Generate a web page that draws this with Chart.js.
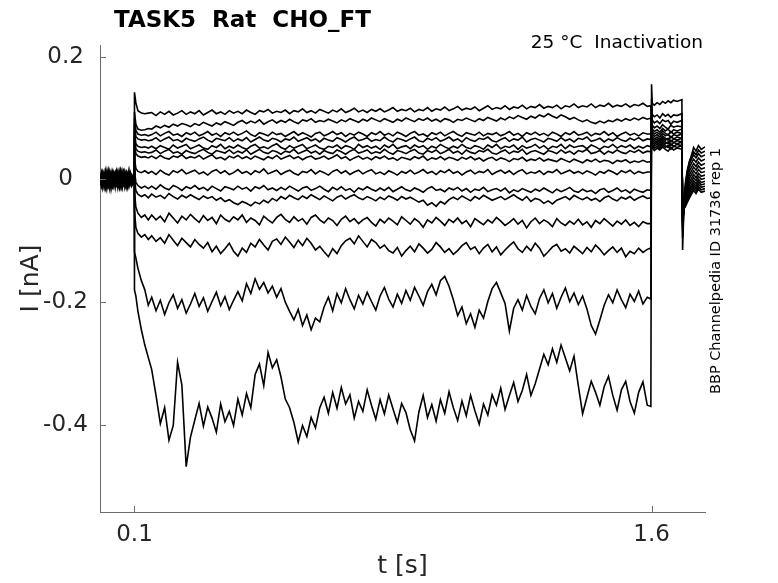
<!DOCTYPE html>
<html lang="en">
<head>
<meta charset="UTF-8">
<title>TASK5 Rat CHO_FT - Inactivation</title>
<script src="https://cdn.jsdelivr.net/npm/chart.js"></script>
<style>
  html, body { margin: 0; padding: 0; background: #fff; }
  canvas { display: block; }
</style>
</head>
<body>
<canvas id="traceChart" width="778" height="583"></canvas>
<script>
// time of each sample [s]: baseline, prepulse, test pulse, tail
const t = [
  0, 0.004, 0.008, 0.012, 0.016, 0.02, 0.024, 0.028, 0.032, 0.036, 0.04, 0.044,
  0.048, 0.052, 0.056, 0.06, 0.064, 0.068, 0.072, 0.076, 0.08, 0.084, 0.088, 0.092, 0.0995,
  0.1, 0.104, 0.11, 0.12, 0.13, 0.14,
  0.15, 0.1625, 0.175, 0.1875, 0.2, 0.2125, 0.225, 0.2375, 0.25, 0.2625,
  0.275, 0.2875, 0.3, 0.3125, 0.325, 0.3375, 0.35, 0.3625, 0.375, 0.3875,
  0.4, 0.4125, 0.425, 0.4375, 0.45, 0.4625, 0.475, 0.4875, 0.5, 0.5125,
  0.525, 0.5375, 0.55, 0.5625, 0.575, 0.5875, 0.6, 0.6125, 0.625, 0.6375,
  0.65, 0.6625, 0.675, 0.6875, 0.7, 0.7125, 0.725, 0.7375, 0.75, 0.7625,
  0.775, 0.7875, 0.8, 0.8125, 0.825, 0.8375, 0.85, 0.8625, 0.875, 0.8875,
  0.9, 0.9125, 0.925, 0.9375, 0.95, 0.9625, 0.975, 0.9875, 1.0, 1.0125,
  1.025, 1.0375, 1.05, 1.0625, 1.075, 1.0875, 1.1, 1.1125, 1.125, 1.1375,
  1.15, 1.1625, 1.175, 1.1875, 1.2, 1.2125, 1.225, 1.2375, 1.25, 1.2625,
  1.275, 1.2875, 1.3, 1.3125, 1.325, 1.3375, 1.35, 1.3625, 1.375, 1.3875,
  1.4, 1.4125, 1.425, 1.4375, 1.45, 1.4625, 1.475, 1.4875, 1.5, 1.5125,
  1.525, 1.5375, 1.55, 1.5625, 1.575, 1.5875,
  1.598,
  1.6, 1.602, 1.608, 1.616, 1.624, 1.632, 1.64, 1.648, 1.656, 1.664, 1.674, 1.688,
  1.69, 1.692, 1.695, 1.699, 1.704, 1.71, 1.716, 1.722, 1.729, 1.736, 1.744, 1.755
];

// current of each sweep [pA], top trace first
const s01 = [
  3,-8,10,-4,12,-11,5,-2,9,-7,6,-12,8,1,-9,11,-5,4,-10,7,-3,13,-6,2,1,
  142,125,112,108,107,108,
  109,104,110,106,111,105,108,112,106,110,
  107,112,105,109,113,107,110,106,112,108,
  111,107,113,109,106,112,110,114,108,111,
  109,113,107,112,110,115,109,112,108,114,
  111,108,113,110,115,109,112,116,110,113,
  109,114,111,115,110,113,117,111,114,112,
  116,110,114,112,117,111,115,113,118,112,
  115,119,113,116,114,118,112,116,120,114,
  117,115,120,114,118,116,121,115,119,117,
  122,116,119,117,121,115,120,118,123,117,
  120,118,123,117,121,119,124,118,121,119,
  123,118,122,120,124,119,
  120,
  84,52,47,51,48,53,49,46,52,48,51,49,
  -50,-49,-46,-43,-37,-30,-24,-18,-23,-16,-21,-19
];
const s02 = [
  -5,9,-10,6,-2,11,-8,3,-12,7,-1,10,-6,4,-9,12,-3,8,-11,5,-7,2,9,-4,3,
  110,90,82,80,81,83,
  82,87,84,88,85,90,87,91,89,86,
  91,88,93,90,87,92,89,94,91,88,
  93,96,91,95,92,97,90,94,97,92,
  96,93,98,94,91,97,95,99,93,96,
  94,98,95,92,97,94,99,96,93,98,
  95,100,97,94,99,96,93,98,95,100,
  97,94,99,96,100,95,98,94,99,97,
  93,98,96,100,97,94,99,96,101,98,
  95,100,97,102,99,104,101,98,103,100,
  105,102,107,103,100,105,102,98,101,97,
  94,97,93,91,95,92,96,94,98,95,
  99,96,100,97,101,98,
  100,
  85,55,51,54,50,56,52,55,49,54,52,55,
  -52,-51,-47,-42,-34,-26,-20,-14,-19,-12,-17,-15
];
const s03 = [
  7,-3,2,-11,5,-6,12,-8,3,-1,9,-5,11,-10,4,-7,6,-2,10,-9,1,-4,8,-6,-4,
  100,80,74,72,73,71,
  73,77,71,75,78,72,74,70,76,73,
  77,71,74,78,72,75,70,76,73,77,
  72,75,79,73,70,76,74,71,77,73,
  75,70,74,78,72,76,73,69,75,77,
  71,74,78,73,76,70,75,72,77,74,
  70,76,73,78,72,75,71,77,74,70,
  75,78,72,74,70,76,73,77,71,75,
  78,73,70,76,74,72,77,71,75,73,
  76,71,74,78,72,75,70,76,73,77,
  72,75,71,77,74,70,76,73,78,72,
  74,77,71,75,73,78,72,76,70,74,
  77,72,75,71,76,74,
  74,
  86,58,54,57,53,59,55,52,58,54,57,55,
  -55,-52,-46,-40,-31,-22,-16,-10,-15,-8,-13,-11
];
const s04 = [
  -2,10,-6,4,-12,7,-1,9,-7,5,-9,3,12,-4,8,-11,2,-6,11,-3,6,-10,4,-8,2,
  90,70,66,64,65,63,
  64,68,62,66,69,63,65,61,67,64,
  62,66,69,64,61,67,65,63,68,62,
  66,63,68,61,65,69,64,62,67,65,
  61,66,64,69,62,65,68,63,66,61,
  67,64,62,68,65,61,66,69,63,65,
  68,62,65,63,69,64,61,67,65,62,
  66,69,63,61,67,64,68,62,65,69,
  63,66,61,68,64,62,67,65,69,63,
  61,65,68,62,66,64,69,61,65,67,
  64,61,67,65,62,68,63,66,61,67,
  65,69,62,64,67,61,66,63,68,64,
  62,67,64,68,63,66,
  65,
  88,61,57,60,56,62,58,61,55,60,58,61,
  -58,-56,-47,-38,-28,-18,-12,-6,-11,-4,-9,-7
];
const s05 = [
  6,-9,5,-4,8,-2,-10,6,-3,11,-6,1,-8,9,-5,3,-12,7,-1,10,-7,4,-3,8,0,
  80,58,54,52,53,51,
  54,50,55,52,49,56,51,54,57,50,
  53,56,51,49,55,52,57,50,54,51,
  56,52,49,54,57,51,53,50,55,58,
  52,49,55,51,54,57,50,53,56,51,
  49,54,52,56,50,55,53,49,57,52,
  55,51,54,49,56,52,57,50,53,55,
  50,56,52,55,49,54,51,57,53,50,
  54,51,57,52,50,55,53,49,56,52,
  57,50,54,52,56,49,55,51,53,57,
  51,55,49,54,52,57,50,56,52,54,
  55,50,56,53,49,54,52,57,51,55,
  52,56,50,54,51,55,
  53,
  90,64,60,63,59,65,61,58,64,60,63,61,
  -60,-55,-45,-35,-24,-14,-8,-2,-7,0,-5,-3
];
const s06 = [
  -8,3,11,-6,2,-9,6,-13,7,-2,4,-10,9,-5,12,-3,1,-8,5,-11,8,-1,3,-6,-3,
  70,50,46,44,45,43,
  44,48,42,46,49,43,45,41,47,44,
  42,46,49,44,41,47,45,43,48,42,
  46,43,48,41,45,49,44,42,47,45,
  41,46,44,49,42,45,48,43,46,41,
  47,44,42,48,45,41,46,49,43,45,
  48,42,45,43,49,44,41,47,45,42,
  46,49,43,41,47,44,48,42,45,49,
  43,46,41,48,44,42,47,45,49,43,
  41,45,48,42,46,44,49,41,45,47,
  44,41,47,45,42,48,43,46,41,47,
  45,49,42,44,47,41,46,43,48,44,
  42,47,44,48,43,46,
  45,
  92,67,63,66,62,68,64,67,61,66,64,67,
  -62,-58,-46,-33,-20,-9,-3,3,-2,5,0,2
];
const s07 = [
  1,-5,7,-11,9,-3,3,-7,10,-9,5,-2,8,-12,4,-6,11,-1,6,-10,2,-4,9,-7,-1,
  60,42,38,36,37,35,
  38,34,39,35,33,38,36,40,34,37,
  35,39,33,37,40,34,36,32,38,35,
  39,34,37,33,38,35,32,37,34,39,
  33,36,39,34,37,32,36,38,33,35,
  38,33,36,40,34,37,31,35,38,33,
  36,32,37,34,38,33,35,31,36,34,
  32,37,34,38,31,35,33,37,32,36,
  34,31,36,33,37,32,35,30,34,36,
  31,35,33,29,34,32,36,30,33,31,
  35,30,33,31,29,34,31,28,33,30,
  27,32,29,33,28,31,30,26,31,29,
  32,27,30,28,31,28,
  29,
  95,70,66,69,65,71,67,64,70,66,69,67,
  -65,-56,-44,-29,-15,-4,2,8,3,10,5,7
];
const s08 = [
  9,-2,-7,5,-6,12,-9,4,-3,8,-10,3,-5,10,-8,6,-1,11,-6,2,-9,7,-4,5,2,
  35,18,13,11,14,10,
  13,8,15,10,7,14,11,16,9,12,
  15,9,12,7,13,16,10,14,8,11,
  16,10,13,8,14,11,17,9,12,15,
  8,12,15,10,7,13,11,16,9,14,
  11,7,13,16,10,14,8,12,15,9,
  13,16,9,12,8,14,11,7,13,10,
  15,9,12,16,10,13,8,14,11,16,
  10,13,7,12,15,9,13,11,16,8,
  12,15,10,14,8,13,16,9,12,10,
  14,8,13,11,16,9,12,15,10,13,
  9,14,11,7,13,10,15,12,8,14,
  11,15,9,13,10,12,
  12,
  98,74,70,73,69,75,71,74,68,73,71,74,
  -68,-60,-42,-25,-10,2,8,14,9,16,11,13
];
const s09 = [
  -4,6,-12,8,-1,5,-8,11,-6,3,-5,9,-2,7,-11,4,-7,10,-3,6,-9,1,8,-5,6,
  15,-5,-10,-14,-11,-15,
  -11,-16,-9,-14,-17,-10,-13,-18,-12,-15,
  -10,-16,-13,-18,-11,-15,-19,-12,-14,-17,
  -11,-16,-13,-19,-12,-15,-10,-17,-14,-18,
  -13,-17,-11,-15,-19,-14,-12,-18,-15,-11,
  -16,-20,-13,-17,-12,-18,-15,-21,-14,-17,
  -12,-16,-19,-14,-18,-13,-20,-16,-12,-17,
  -19,-14,-17,-21,-15,-12,-18,-16,-20,-14,
  -17,-13,-19,-15,-21,-16,-18,-13,-20,-17,
  -15,-19,-14,-22,-17,-20,-15,-18,-21,-16,
  -19,-14,-18,-22,-16,-20,-17,-13,-19,-21,
  -16,-20,-18,-23,-17,-15,-21,-18,-14,-20,
  -17,-22,-16,-19,-21,-17,
  -18,
  100,78,74,77,73,79,75,72,78,74,77,75,
  -70,-58,-38,-20,-4,8,14,20,15,22,17,19
];
const s10 = [
  5,-10,3,-2,7,-13,8,-4,6,-7,10,-3,4,-9,2,-6,12,-5,9,-1,5,-8,3,-11,-2,
  0,-18,-24,-28,-25,-30,
  -24,-29,-26,-31,-23,-28,-32,-26,-30,-25,
  -29,-33,-27,-31,-28,-34,-30,-36,-33,-38,
  -41,-36,-39,-43,-37,-40,-34,-38,-31,-35,
  -28,-32,-26,-30,-33,-27,-31,-25,-29,-33,
  -27,-31,-35,-29,-26,-32,-28,-25,-30,-33,
  -28,-31,-35,-29,-33,-27,-30,-34,-28,-32,
  -29,-33,-37,-34,-42,-38,-44,-36,-40,-33,
  -29,-33,-27,-31,-35,-28,-32,-26,-30,-34,
  -31,-28,-33,-29,-25,-30,-34,-28,-36,-31,
  -33,-39,-35,-40,-34,-31,-28,-33,-26,-30,
  -33,-29,-34,-31,-36,-30,-27,-32,-35,-29,
  -32,-28,-34,-30,-27,-31,
  -30,
  105,82,78,81,77,83,79,82,76,81,79,82,
  -75,-55,-34,-14,2,14,20,26,21,28,23,26
];
const s11 = [
  -7,4,-5,10,-9,2,-6,7,-14,5,-1,8,-4,11,-8,3,-10,6,-2,9,-5,12,-7,1,5,
  -20,-45,-55,-62,-58,-66,
  -58,-66,-60,-69,-55,-63,-71,-60,-66,-57,
  -64,-70,-59,-67,-62,-72,-58,-65,-69,-61,
  -66,-58,-70,-63,-67,-74,-60,-66,-71,-62,
  -57,-65,-70,-61,-68,-64,-73,-62,-58,-66,
  -71,-63,-67,-75,-65,-60,-69,-64,-72,-66,
  -62,-70,-76,-65,-71,-63,-68,-74,-61,-67,
  -73,-64,-69,-78,-66,-71,-62,-68,-75,-65,
  -70,-63,-72,-67,-77,-64,-69,-74,-66,-71,
  -62,-68,-75,-70,-64,-73,-67,-79,-69,-63,
  -72,-66,-70,-77,-64,-71,-75,-68,-73,-65,
  -74,-69,-78,-67,-72,-64,-70,-76,-68,-73,
  -66,-75,-70,-77,-69,-72,
  -72,
  110,88,84,87,83,89,85,82,88,85,87,86,
  -80,-52,-30,-8,8,20,27,33,28,35,30,33
];
const s12 = [
  2,7,-8,-3,6,-7,11,-5,1,-10,7,-4,9,-2,-8,5,-12,3,10,-6,4,-9,6,-3,-5,
  -50,-78,-88,-94,-90,-98,
  -92,-101,-95,-104,-90,-99,-108,-96,-103,-110,
  -98,-106,-112,-103,-118,-109,-121,-113,-104,-117,
  -125,-112,-119,-104,-110,-98,-107,-115,-101,-97,
  -106,-94,-102,-111,-99,-108,-96,-104,-115,-109,
  -118,-126,-113,-121,-108,-100,-96,-105,-92,-101,
  -110,-98,-103,-112,-107,-116,-120,-111,-125,-116,
  -109,-118,-105,-112,-120,-114,-103,-110,-119,-113,
  -122,-116,-108,-103,-114,-110,-121,-112,-106,-118,
  -110,-123,-115,-108,-102,-113,-119,-109,-116,-104,
  -112,-125,-118,-110,-106,-117,-113,-120,-109,-115,
  -121,-111,-118,-107,-114,-123,-116,-110,-119,-112,
  -126,-117,-121,-112,-119,-114,
  -112,
  120,97,92,95,91,97,94,96,90,95,93,96,
  -85,-58,-28,-2,14,26,33,40,35,42,37,40
];
const s13 = [
  -1,-8,6,9,-11,4,-3,-10,8,-5,3,10,-7,2,-12,6,-4,11,-1,-9,7,-6,5,-2,8,
  -118,-128,-145,-165,-180,-205,
  -192,-214,-197,-220,-201,-188,-210,-196,-218,-203,
  -186,-207,-193,-215,-199,-184,-206,-191,-212,-197,
  -183,-198,-170,-186,-162,-179,-168,-185,-174,-192,
  -178,-200,-215,-229,-212,-238,-221,-245,-226,-232,
  -208,-192,-214,-186,-201,-178,-196,-211,-189,-203,
  -184,-199,-213,-190,-176,-195,-208,-187,-202,-181,
  -197,-176,-190,-205,-183,-171,-188,-165,-158,-174,
  -196,-222,-208,-235,-219,-241,-213,-226,-199,-178,
  -168,-185,-202,-247,-210,-196,-213,-189,-207,-219,
  -194,-180,-201,-186,-210,-192,-177,-199,-185,-204,
  -190,-211,-238,-252,-229,-205,-188,-201,-180,-196,
  -209,-187,-199,-182,-203,-192,
  -195,
  130,106,102,105,100,107,103,106,101,105,104,107,
  -95,-66,-32,-5,16,30,38,45,40,48,43,46
];
const s14 = [
  8,-6,2,-9,4,10,-5,5,-8,-12,6,-3,9,-7,1,12,-10,3,-4,8,-11,5,-2,7,-6,
  -180,-190,-215,-245,-270,-290,
  -310,-352,-398,-372,-425,-401,-298,-335,-468,-420,
  -392,-365,-402,-371,-389,-412,-366,-395,-378,-401,
  -358,-384,-349,-372,-318,-301,-336,-282,-307,-294,
  -322,-358,-372,-396,-428,-401,-419,-388,-405,-372,
  -355,-381,-347,-373,-339,-366,-351,-389,-362,-378,
  -343,-368,-391,-359,-382,-351,-374,-396,-365,-380,
  -408,-426,-379,-352,-388,-367,-394,-359,-381,-346,
  -372,-393,-361,-385,-352,-377,-399,-366,-384,-351,
  -368,-340,-375,-352,-331,-362,-344,-318,-352,-333,
  -309,-285,-302,-276,-298,-270,-291,-312,-288,-336,
  -382,-355,-329,-347,-368,-338,-321,-352,-376,-343,
  -329,-362,-381,-347,-330,-368,
  -370,
  155,124,121,125,122,127,124,128,125,129,127,130,
  -115,-78,-40,-12,12,28,40,52,46,55,49,53
];
const sweeps = [s01, s02, s03, s04, s05, s06, s07, s08, s09, s10, s11, s12, s13, s14];

const xTicks = [0.1, 1.6];
const yTicks = [-0.4, -0.2, 0, 0.2];

const fontFamily = '"DejaVu Sans", "Liberation Sans", sans-serif';
const textColor = '#262626';
const axisColor = '#6b6b6b';

// build datasets (pA -> nA)
const datasets = sweeps.map(function (s, k) {
  if (s.length !== t.length) console.warn('sweep ' + (k + 1) + ' has ' + s.length + ' samples');
  return {
    data: t.map((tt, i) => ({ x: tt, y: s[i] / 1000 })),
    borderColor: '#000',
    borderWidth: 1.6,
    borderJoinStyle: 'miter',
    pointRadius: 0,
    fill: false,
    tension: 0
  };
});

// MATLAB style ticks pointing into the axes
const innerTicks = {
  id: 'innerTicks',
  afterDatasetsDraw(chart) {
    const { ctx, chartArea, scales } = chart;
    ctx.save();
    ctx.strokeStyle = axisColor;
    ctx.lineWidth = 1;
    ctx.beginPath();
    xTicks.forEach(v => {
      const px = Math.round(scales.x.getPixelForValue(v)) + 0.5;
      ctx.moveTo(px, chartArea.bottom);
      ctx.lineTo(px, chartArea.bottom - 6);
    });
    yTicks.forEach(v => {
      const py = Math.round(scales.y.getPixelForValue(v)) + 0.5;
      ctx.moveTo(chartArea.left, py);
      ctx.lineTo(chartArea.left + 6, py);
    });
    ctx.stroke();
    ctx.restore();
  }
};

// title, condition and the vertical id text
const labels = {
  id: 'labels',
  afterDraw(chart) {
    const { ctx, chartArea } = chart;
    ctx.save();
    ctx.fillStyle = '#000';
    ctx.textBaseline = 'alphabetic';
    ctx.textAlign = 'left';
    ctx.font = 'bold 23px ' + fontFamily;
    ctx.fillText('TASK5  Rat  CHO_FT', chartArea.left + 14, 27);

    ctx.textAlign = 'right';
    ctx.font = '18.5px ' + fontFamily;
    ctx.fillText('25 °C  Inactivation', chartArea.right - 2, 48);

    ctx.translate(chartArea.right + 11, 271);
    ctx.rotate(-Math.PI / 2);
    ctx.textAlign = 'center';
    ctx.textBaseline = 'middle';
    ctx.font = '14.5px ' + fontFamily;
    ctx.fillText('BBP Channelpedia ID 31736 rep 1', 0, 0);
    ctx.restore();
  }
};

const ctx = document.getElementById('traceChart').getContext('2d');
const traceChart = new Chart(ctx, {
  type: 'line',
  data: { datasets: datasets },
  options: {
    responsive: false,
    animation: false,
    events: [],
    layout: { padding: { top: 45, right: 73, left: 0, bottom: 0 } },
    plugins: {
      legend: { display: false },
      tooltip: { enabled: false },
      title: { display: false }
    },
    scales: {
      x: {
        type: 'linear',
        min: 0,
        max: 1.755,
        afterBuildTicks: s => { s.ticks = xTicks.map(v => ({ value: v })); },
        afterFit: s => { s.height = 71; },
        grid: { display: false, drawTicks: false },
        border: { display: true, color: axisColor, width: 1 },
        ticks: {
          autoSkip: false,
          maxRotation: 0,
          padding: 9,
          color: textColor,
          font: { family: fontFamily, size: 23 },
          callback: v => String(v)
        },
        title: {
          display: true,
          text: 't [s]',
          color: textColor,
          font: { family: fontFamily, size: 25 },
          padding: { top: 0, bottom: 2 }
        }
      },
      y: {
        type: 'linear',
        min: -0.542,
        max: 0.219,
        afterBuildTicks: s => { s.ticks = yTicks.map(v => ({ value: v })); },
        afterFit: s => { s.width = 100; },
        grid: { display: false, drawTicks: false },
        border: { display: true, color: axisColor, width: 1 },
        ticks: {
          autoSkip: false,
          padding: 12,
          crossAlign: 'center',
          color: textColor,
          font: { family: fontFamily, size: 23 },
          callback: v => String(v)
        },
        title: {
          display: true,
          text: 'I [nA]',
          color: textColor,
          font: { family: fontFamily, size: 25 },
          padding: { top: 16, bottom: 0 }
        }
      }
    }
  },
  plugins: [innerTicks, labels]
});
</script>
</body>
</html>
